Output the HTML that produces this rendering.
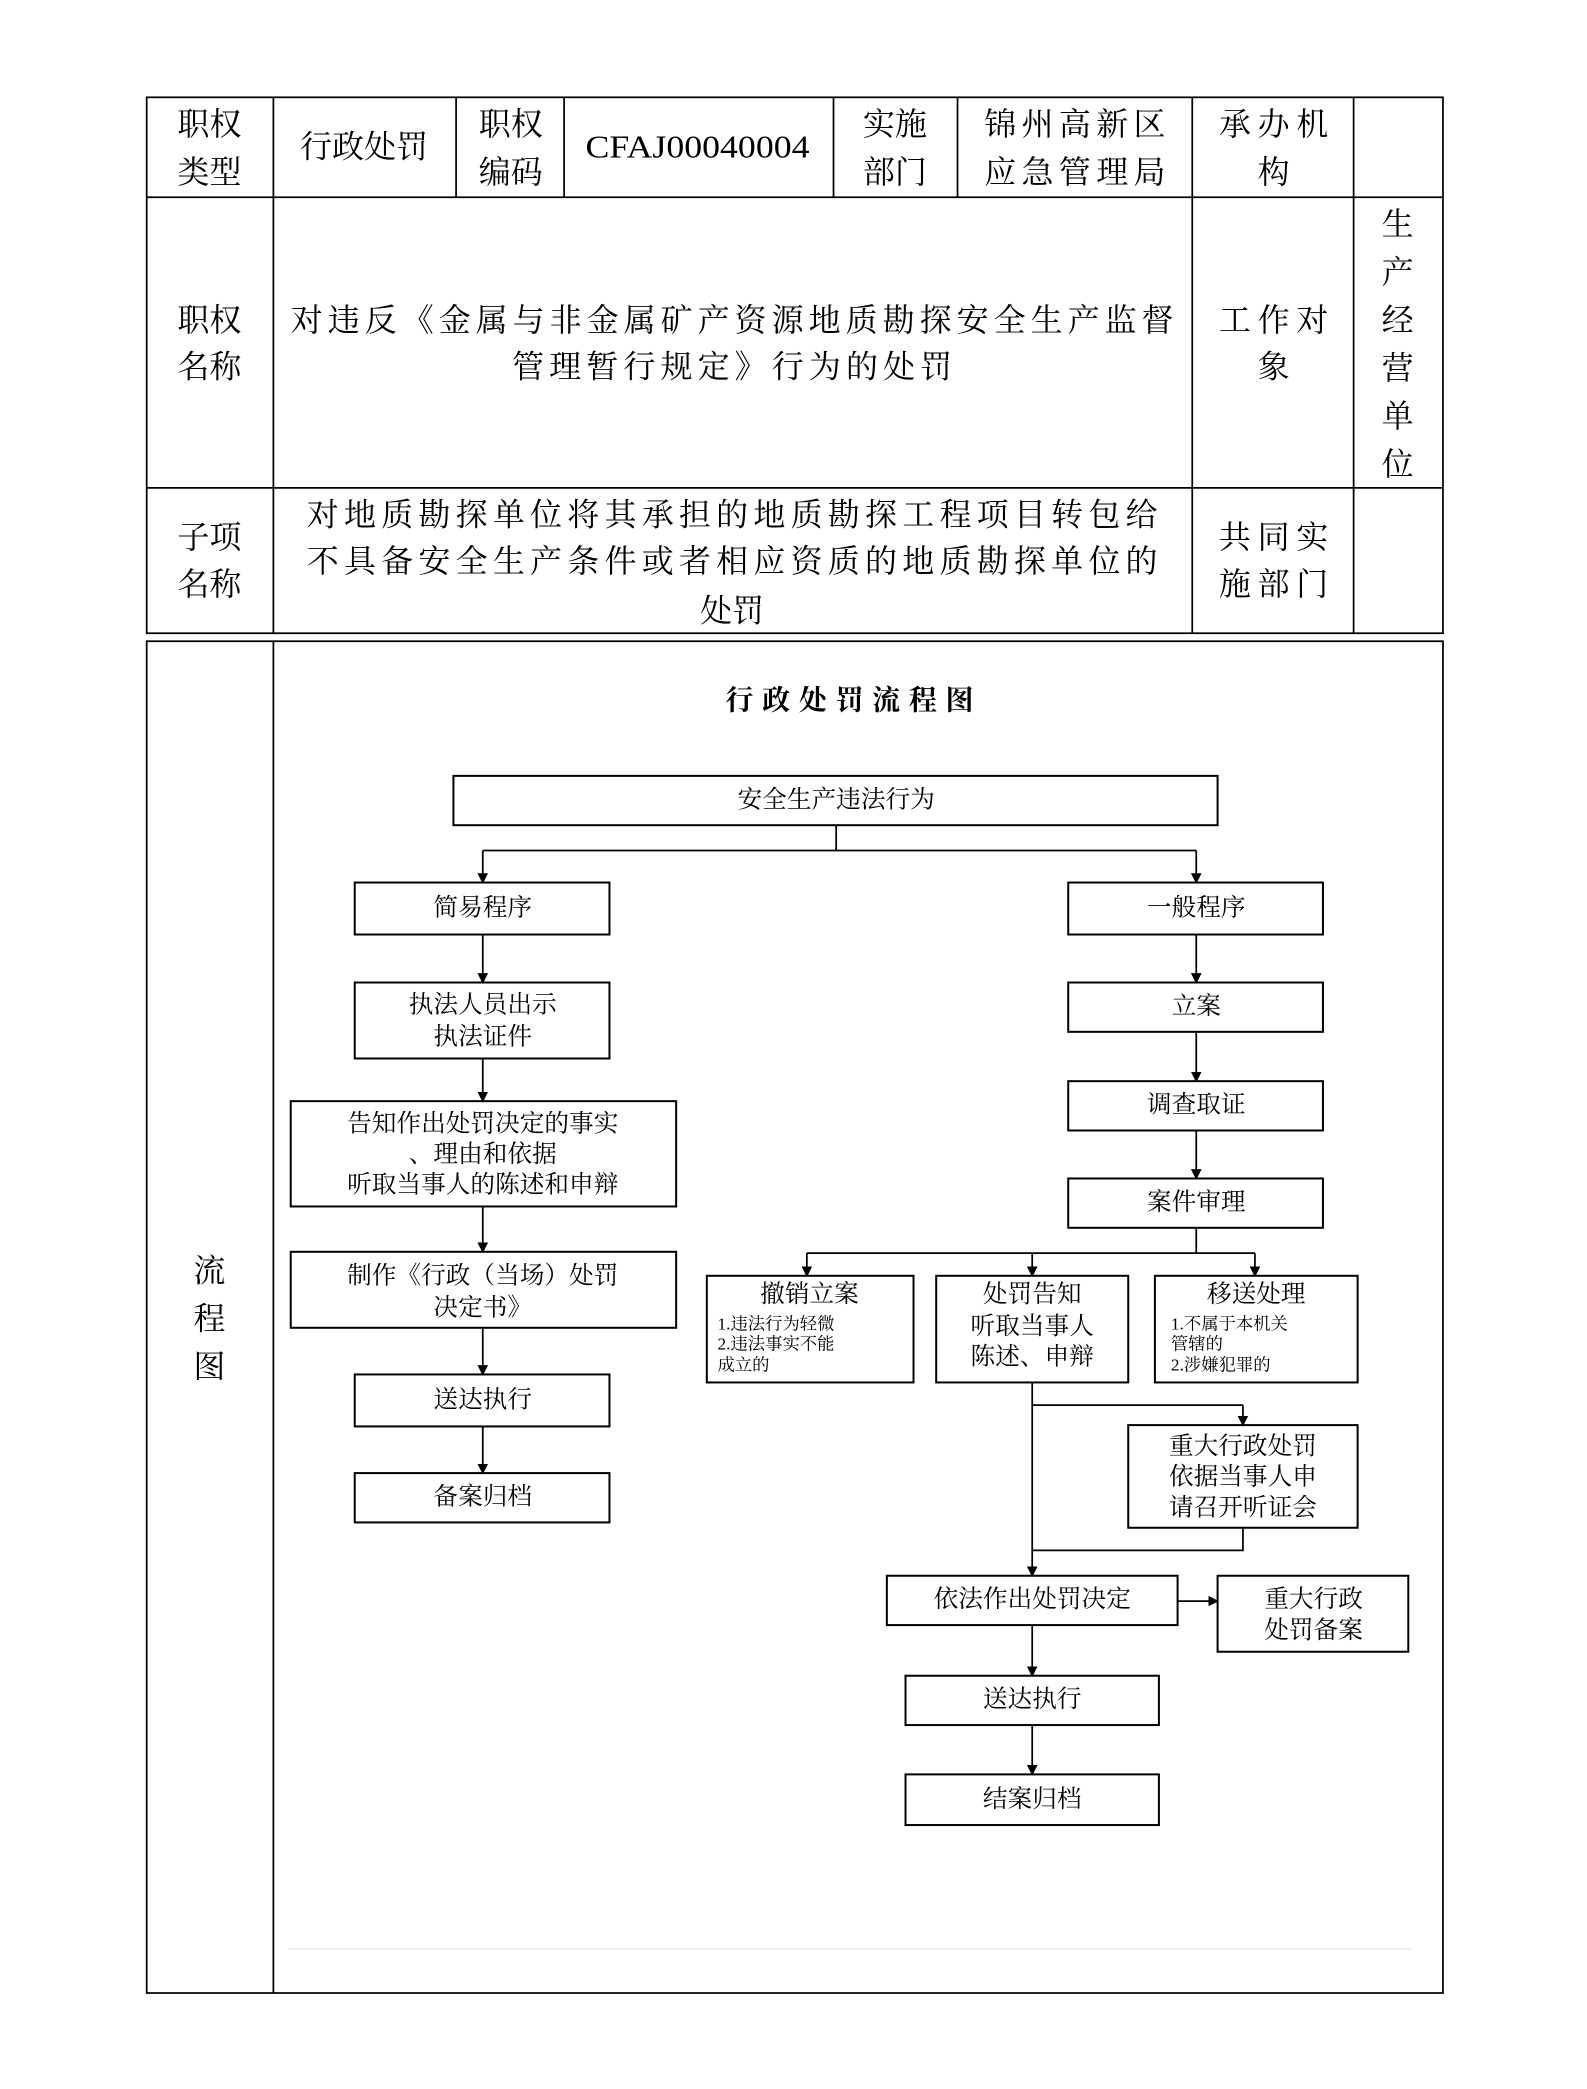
<!DOCTYPE html>
<html><head><meta charset="utf-8"><style>
html,body{margin:0;padding:0;background:#fff;}
svg{display:block;}
text{font-family:"Liberation Serif","Noto Serif CJK SC",serif;fill:#000;}
.t{font-size:24px;}
.f{font-size:18.5px;font-family:"Liberation Sans","Noto Sans CJK SC",sans-serif;}
.s{font-size:13px;font-family:"Liberation Serif","Noto Serif CJK SC",serif;}
</style></head><body>
<svg width="1587" height="2089" viewBox="0 0 1190 1567" preserveAspectRatio="none" xmlns="http://www.w3.org/2000/svg">
<defs><marker id="a" markerWidth="8" markerHeight="8" refX="7" refY="4" orient="auto" markerUnits="userSpaceOnUse"><path d="M0,0 L8,4 L0,8 z" fill="#000"/></marker></defs>
<g stroke="#000" stroke-width="1.3" fill="none">
<rect x="110" y="73" width="972" height="402"/>
<line x1="110" y1="148" x2="1082" y2="148"/>
<line x1="110" y1="366" x2="1082" y2="366"/>
<line x1="205" y1="73" x2="205" y2="475"/>
<line x1="342" y1="73" x2="342" y2="148"/>
<line x1="423" y1="73" x2="423" y2="148"/>
<line x1="625" y1="73" x2="625" y2="148"/>
<line x1="718" y1="73" x2="718" y2="148"/>
<line x1="894" y1="73" x2="894" y2="475"/>
<line x1="1015" y1="73" x2="1015" y2="475"/>
<rect x="110" y="481" width="972" height="1014"/>
<line x1="205" y1="481" x2="205" y2="1495"/>
</g>
<line x1="216" y1="1462" x2="1058" y2="1462" stroke="#e6e6e6" stroke-width="1"/>
<g class="t" text-anchor="middle" dominant-baseline="central">
<text x="157" y="93">职权</text><text x="157" y="129">类型</text>
<text x="273" y="110">行政处罚</text>
<text x="383" y="93">职权</text><text x="383" y="129">编码</text>
<text x="523" y="110" textLength="168" lengthAdjust="spacingAndGlyphs">CFAJ00040004</text>
<text x="671" y="93">实施</text><text x="671" y="129">部门</text>
<text x="806" y="93" textLength="136">锦州高新区</text><text x="806" y="129" textLength="136">应急管理局</text>
<text x="955" y="93" textLength="82">承办机</text><text x="955" y="129">构</text>
<text x="157" y="240">职权</text><text x="157" y="275">名称</text>
<text x="549" y="240" textLength="662">对违反《金属与非金属矿产资源地质勘探安全生产监督</text>
<text x="549" y="275" textLength="330">管理暂行规定》行为的处罚</text>
<text x="955" y="240" textLength="82">工作对</text><text x="955" y="275">象</text>
<text x="1048" y="168">生</text><text x="1048" y="204">产</text><text x="1048" y="240">经</text><text x="1048" y="276">营</text><text x="1048" y="312">单</text><text x="1048" y="348">位</text>
<text x="157" y="403">子项</text><text x="157" y="438">名称</text>
<text x="549" y="386" textLength="638">对地质勘探单位将其承担的地质勘探工程项目转包给</text>
<text x="549" y="421" textLength="638">不具备安全生产条件或者相应资质的地质勘探单位的</text>
<text x="549" y="458">处罚</text>
<text x="955" y="403" textLength="82">共同实</text><text x="955" y="438" textLength="82">施部门</text>
<text x="157" y="953">流</text><text x="157" y="989">程</text><text x="157" y="1025">图</text>
</g>
<text x="637" y="526" text-anchor="middle" dominant-baseline="central" style="font-size:21px;font-weight:bold" textLength="186">行政处罚流程图</text>
<g stroke="#000" stroke-width="1.5" fill="#fff">
<rect x="340" y="582" width="573" height="37"/>
<rect x="266" y="662" width="191" height="39"/>
<rect x="801" y="662" width="191" height="39"/>
<rect x="266" y="737" width="191" height="57"/>
<rect x="218" y="826" width="289" height="79"/>
<rect x="218" y="939" width="289" height="57"/>
<rect x="266" y="1031" width="191" height="39"/>
<rect x="266" y="1105" width="191" height="37"/>
<rect x="801" y="737" width="191" height="37"/>
<rect x="801" y="811" width="191" height="37"/>
<rect x="801" y="884" width="191" height="37"/>
<rect x="530" y="957" width="155" height="80"/>
<rect x="702" y="957" width="144" height="80"/>
<rect x="866" y="957" width="152" height="80"/>
<rect x="846" y="1069" width="172" height="77"/>
<rect x="665" y="1182" width="218" height="37"/>
<rect x="913" y="1182" width="143" height="57"/>
<rect x="679" y="1257" width="190" height="37"/>
<rect x="679" y="1331" width="190" height="38"/>
</g>
<g stroke="#000" stroke-width="1.3" fill="none">
<polyline points="627,619 627,638"/>
<polyline points="362,638 897,638"/>
<line x1="362" y1="638" x2="362" y2="662" marker-end="url(#a)"/>
<line x1="897" y1="638" x2="897" y2="662" marker-end="url(#a)"/>
<line x1="362" y1="701" x2="362" y2="737" marker-end="url(#a)"/>
<line x1="362" y1="794" x2="362" y2="826" marker-end="url(#a)"/>
<line x1="362" y1="905" x2="362" y2="939" marker-end="url(#a)"/>
<line x1="362" y1="996" x2="362" y2="1031" marker-end="url(#a)"/>
<line x1="362" y1="1070" x2="362" y2="1105" marker-end="url(#a)"/>
<line x1="897" y1="701" x2="897" y2="737" marker-end="url(#a)"/>
<line x1="897" y1="774" x2="897" y2="811" marker-end="url(#a)"/>
<line x1="897" y1="848" x2="897" y2="884" marker-end="url(#a)"/>
<polyline points="897,921 897,940"/>
<polyline points="605,940 941,940"/>
<line x1="605" y1="940" x2="605" y2="957" marker-end="url(#a)"/>
<line x1="774" y1="940" x2="774" y2="957" marker-end="url(#a)"/>
<line x1="941" y1="940" x2="941" y2="957" marker-end="url(#a)"/>
<line x1="774" y1="1037" x2="774" y2="1182" marker-end="url(#a)"/>
<polyline points="774,1054 932,1054"/>
<line x1="932" y1="1054" x2="932" y2="1069" marker-end="url(#a)"/>
<polyline points="932,1146 932,1163 774,1163"/>
<line x1="883" y1="1201" x2="913" y2="1201" marker-end="url(#a)"/>
<line x1="774" y1="1219" x2="774" y2="1257" marker-end="url(#a)"/>
<line x1="774" y1="1294" x2="774" y2="1331" marker-end="url(#a)"/>
</g>
<g class="f" text-anchor="middle" dominant-baseline="central">
<text x="627" y="600">安全生产违法行为</text>
<text x="362" y="681">简易程序</text>
<text x="897" y="681">一般程序</text>
<text x="362" y="754">执法人员出示</text><text x="362" y="778">执法证件</text>
<text x="362" y="843">告知作出处罚决定的事实</text><text x="362" y="866">、理由和依据</text><text x="362" y="889">听取当事人的陈述和申辩</text>
<text x="362" y="957">制作《行政（当场）处罚</text><text x="362" y="981">决定书》</text>
<text x="362" y="1050">送达执行</text>
<text x="362" y="1123">备案归档</text>
<text x="897" y="755">立案</text>
<text x="897" y="829">调查取证</text>
<text x="897" y="902">案件审理</text>
<text x="607" y="971">撤销立案</text>
<text x="774" y="971">处罚告知</text><text x="774" y="995">听取当事人</text><text x="774" y="1018">陈述、申辩</text>
<text x="942" y="971">移送处理</text>
<text x="932" y="1085">重大行政处罚</text><text x="932" y="1108">依据当事人申</text><text x="932" y="1131">请召开听证会</text>
<text x="774" y="1200">依法作出处罚决定</text>
<text x="985" y="1200">重大行政</text><text x="985" y="1223">处罚备案</text>
<text x="774" y="1275">送达执行</text>
<text x="774" y="1350">结案归档</text>
</g>
<g class="s" dominant-baseline="central">
<text x="538" y="993">1.违法行为轻微</text>
<text x="538" y="1008">2.违法事实不能</text>
<text x="538" y="1024">成立的</text>
<text x="878" y="993">1.不属于本机关</text>
<text x="878" y="1008">管辖的</text>
<text x="878" y="1024">2.涉嫌犯罪的</text>
</g>
</svg>
</body></html>
